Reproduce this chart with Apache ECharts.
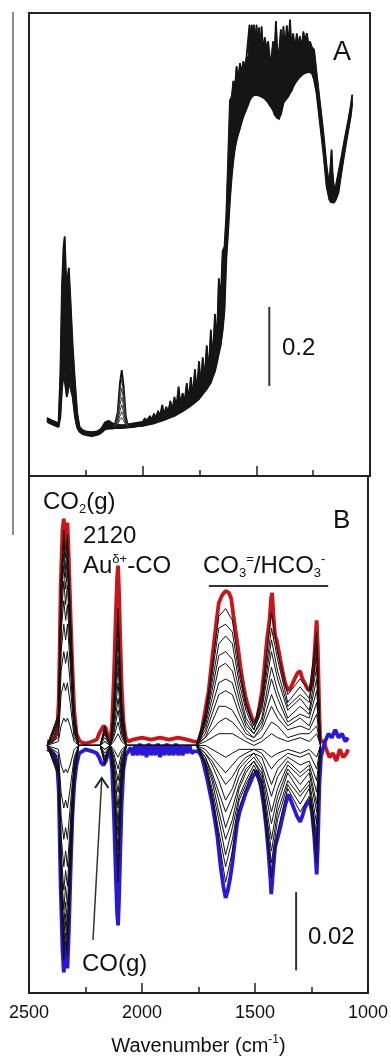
<!DOCTYPE html>
<html><head><meta charset="utf-8">
<script src="https://cdn.jsdelivr.net/npm/echarts@6/dist/echarts.min.js"></script>
<style>html,body{margin:0;padding:0;background:#fff}#c{width:391px;height:1059px}</style>
</head><body><div id="c"></div>
<script>
// ---------- Panel A : absorbance spectra (bundle envelope) ----------
const aWn = [2420,2400,2380,2370,2362,2355,2348,2343,2338,2334,2330,2325,2318,2308,2298,2288,2278,2265,2245,2222,2200,2185,2165,2150,2135,2120,2100,2080,2060,2040,2020,2000,1990,1982,1968,1960,1950,1942,1932,1924,1914,1906,1896,1888,1878,1870,1860,1852,1842,1834,1824,1816,1806,1798,1788,1780,1770,1762,1752,1744,1736,1728,1718,1710,1700,1692,1682,1674,1665,1657,1648,1640,1632,1624,1616,1608,1601,1594,1587,1580,1572,1565,1557,1550,1543,1536,1530,1525,1520,1515,1510,1505,1499,1493,1488,1482,1477,1470,1463,1455,1448,1440,1433,1426,1420,1414,1407,1399,1392,1386,1381,1374,1366,1358,1352,1345,1338,1330,1322,1315,1308,1300,1293,1286,1278,1270,1264,1256,1246,1235,1220,1205,1191,1179,1172,1169,1165,1158,1150,1139,1128,1117,1106,1095,1085,1078];
const aUpper = [0.147,0.141,0.136,0.134,0.26,0.48,0.58,0.606,0.52,0.47,0.50,0.527,0.45,0.33,0.24,0.16,0.125,0.116,0.112,0.111,0.113,0.118,0.136,0.14,0.134,0.131,0.129,0.129,0.131,0.133,0.135,0.137,0.146,0.139,0.152,0.142,0.158,0.146,0.165,0.15,0.18,0.156,0.175,0.16,0.19,0.165,0.20,0.172,0.226,0.18,0.21,0.185,0.235,0.19,0.25,0.2,0.27,0.21,0.29,0.225,0.30,0.245,0.33,0.26,0.37,0.29,0.41,0.33,0.50,0.44,0.57,0.58,0.66,0.80,0.95,0.96,1.00,0.98,1.037,1.00,1.045,1.02,1.05,1.03,1.062,1.06,1.142,1.08,1.142,1.09,1.142,1.08,1.142,1.07,1.135,1.06,1.138,1.07,1.11,1.08,1.10,1.05,1.062,1.10,1.06,1.151,1.07,1.079,1.13,1.06,1.138,1.08,1.14,1.09,1.155,1.08,1.12,1.079,1.12,1.09,1.113,1.08,1.125,1.10,1.121,1.09,1.10,1.085,1.079,1.02,0.944,0.868,0.784,0.734,0.80,0.826,0.77,0.725,0.735,0.767,0.80,0.835,0.87,0.902,0.935,0.965];
const aLower = [0.137,0.131,0.126,0.124,0.15,0.22,0.26,0.26,0.22,0.20,0.21,0.24,0.24,0.20,0.15,0.122,0.112,0.106,0.103,0.101,0.104,0.108,0.118,0.12,0.12,0.121,0.121,0.122,0.123,0.124,0.126,0.127,0.128,0.129,0.131,0.132,0.133,0.135,0.137,0.139,0.14,0.142,0.144,0.146,0.148,0.15,0.152,0.155,0.158,0.161,0.164,0.167,0.171,0.175,0.178,0.182,0.186,0.19,0.195,0.2,0.207,0.213,0.22,0.228,0.236,0.25,0.265,0.285,0.31,0.33,0.37,0.42,0.55,0.62,0.70,0.76,0.80,0.83,0.85,0.865,0.88,0.895,0.91,0.92,0.93,0.94,0.95,0.955,0.96,0.962,0.964,0.965,0.965,0.964,0.963,0.962,0.96,0.958,0.955,0.95,0.945,0.938,0.932,0.925,0.915,0.91,0.905,0.902,0.915,0.93,0.944,0.95,0.955,0.962,0.969,0.975,0.985,0.994,1.0,1.006,1.011,1.015,1.018,1.02,1.022,1.023,1.024,1.02,1.003,0.969,0.893,0.818,0.734,0.70,0.693,0.692,0.692,0.692,0.70,0.717,0.76,0.801,0.84,0.877,0.91,0.944];
// Panel A: individual curves of the 2120 (Au-CO) band
const aCoWn = [2125,2110,2100,2092,2084,2074,2064];
const aCo = [
  [0.124,0.16,0.235,0.268,0.23,0.15,0.126],
  [0.124,0.155,0.215,0.245,0.21,0.145,0.126],
  [0.124,0.15,0.197,0.222,0.193,0.14,0.126],
  [0.124,0.145,0.18,0.2,0.177,0.137,0.126],
  [0.124,0.14,0.165,0.18,0.162,0.134,0.126],
  [0.124,0.136,0.152,0.163,0.15,0.132,0.126],
  [0.124,0.132,0.142,0.148,0.14,0.13,0.126]
];
const scaleBarA = [[1443,0.228],[1443,0.428]];

// ---------- Panel B : difference spectra (units of 0.001 abs) ----------
const redWn = [2420,2400,2385,2375,2368,2360,2352,2346,2340,2336,2330,2324,2316,2308,2300,2290,2275,2250,2220,2200,2190,2180,2170,2160,2150,2140,2132,2124,2116,2110,2106,2102,2096,2090,2082,2072,2060,2040,2000,1960,1920,1880,1840,1800,1770,1750,1735,1720,1705,1690,1680,1670,1660,1645,1630,1615,1605,1595,1585,1575,1564,1550,1540,1525,1510,1500,1490,1480,1469,1458,1447,1436,1428,1424,1418,1411,1404,1396,1388,1378,1367,1352,1340,1325,1312,1300,1290,1280,1268,1258,1248,1240,1232,1227,1222,1216,1212,1205,1195,1185,1170,1155,1140,1125,1110,1095,1088];
const redVal = [1,1,2,4,12,40,55,58,52,50,57,48,33,20,9,3,1,0.5,1,1.5,3,4,5,4.5,2,1,6,18,33,43,46,40,27,15,6,2,1,1.5,2,1.5,2,1.5,2,1.5,1,1,4,9,14,22,27,32,36.5,38.5,39.5,39,37.5,33,29,25,20,15,12,9,6.5,6,7,10,14,20,27,32,38,39,33,28,27,27,22,19,16,14,15,17,18.5,19,17,16,14.5,14,16,20,28,32,25,10,2,1,1,-1,-3,-2,-4,-1,-3,-2,-1];
const blueWn = [2420,2400,2385,2375,2368,2360,2352,2346,2340,2336,2330,2324,2316,2308,2300,2290,2278,2250,2220,2200,2190,2180,2170,2160,2150,2140,2132,2124,2116,2110,2106,2102,2096,2090,2082,2072,2060,
  2050,2040,2030,2020,2010,2000,1990,1980,1970,1960,1950,1940,1930,1920,1910,1900,1890,1880,1870,1860,1850,1840,1830,1820,1810,1800,1790,1780,
  1770,1750,1735,1726,1710,1689,1675,1667,1652,1640,1630,1620,1610,1600,1590,1579,1568,1557,1540,1528,1510,1491,1478,1462,1450,1440,1432,1428,1420,1411,1404,1396,1388,1381,1365,1352,1335,1315,1300,1290,1280,1271,1258,1248,1238,1230,1227,1222,1215,1208,1200,1190,1175,1160,1145,1130,1115,1100,1088];
const blueVal = [-1,-1.5,-2.5,-5,-12,-36,-52,-58,-53,-50,-57,-48,-32,-18,-10,-5,-2,-1,-1.5,-2,-3,-4.5,-5,-4,-2,-1.5,-6,-18,-33,-43,-46,-40,-27,-15,-6,-2.5,-1.5,
  -0.5,-2.5,0,-2.5,0.5,-2.5,0,-3,0.5,-2.5,0,-2.5,0.5,-3,0,-2.5,0.5,-2.5,0,-2.5,0.5,-2.5,0,-2.5,0,-2,0,-2,
  -1.5,-1.5,-3,-5,-9,-15,-20,-23,-31,-36,-39,-37,-34,-30,-25,-20,-17,-15,-12,-10.5,-8,-6.5,-9,-15,-21,-27.5,-34,-38,-32,-26,-24.5,-24,-21,-19,-15,-12.5,-15,-18,-19.5,-18,-16,-15,-14,-17,-23,-30,-33,-26,-10,-3,-1,1,3,2,4,2,3,1,2];
// intermediate (black) spectra, sampled at bGrid
const bGrid = [2420,2370,2358,2346,2338,2330,2318,2300,2280,2185,2165,2140,2125,2106,2090,2070,1760,1720,1690,1660,1630,1600,1570,1540,1505,1470,1427,1400,1355,1300,1260,1227,1210];
const bPos = [
  [0,1,5,7,6,7,5,1,0,0,1,0,1,3,1,0,0,1,2,3,3,3,2,1,0,1,3,2,1,2,1,3,0],
  [0,2,13,16,14,16,11,2,0,0,1,0,2,6,2,0,0,2,4,6,7,6,4,2,1,2,6,5,2,3,3,5,0],
  [0,3,19,24,21,24,16,3,0,0,2,0,3,9,3,0,0,2,6,10,10,9,6,3,2,4,10,7,4,5,4,8,0],
  [0,4,24,31,27,31,21,4,0,0,3,0,4,12,4,0,0,3,8,13,14,13,8,4,2,5,13,9,5,7,5,11,0],
  [0,5,29,37,32,36,24,5,0,0,3,0,5,16,5,0,0,4,10,16,17,16,10,5,3,6,17,12,6,8,7,14,0],
  [0,6,32,42,36,41,27,6,0,0,4,0,6,20,6,0,0,5,12,20,21,19,12,6,3,7,20,14,7,10,8,17,0],
  [0,6,36,46,40,45,30,6,0,0,4,0,8,23,8,0,0,6,14,23,24,22,14,7,4,9,24,17,9,12,9,20,0],
  [0,7,38,49,43,48,32,7,0,0,4,0,9,27,9,0,0,6,16,26,28,26,16,9,4,10,27,19,10,13,11,23,0],
  [0,7,41,52,45,51,34,7,0,0,4,0,10,31,10,0,0,7,18,30,31,29,18,10,5,11,30,22,11,15,12,26,0],
  [0,8,43,55,48,54,36,8,0,0,5,0,11,35,11,0,0,8,20,33,35,32,20,11,5,13,34,24,13,17,14,29,0]
];
const bNeg = [
  [0,-1,-5,-7,-6,-7,-5,-1,0,0,-1,0,-1,-3,-1,0,0,0,-1,-2,-3,-2,-1,-1,-1,-1,-3,-2,-1,-2,-1,-3,0],
  [0,-2,-12,-16,-14,-16,-11,-3,0,0,-1,0,-2,-6,-2,0,0,-1,-3,-5,-7,-5,-3,-2,-1,-2,-6,-4,-2,-3,-2,-6,0],
  [0,-3,-18,-24,-21,-24,-16,-4,0,0,-2,0,-3,-9,-3,0,0,-2,-4,-7,-10,-8,-5,-3,-2,-3,-10,-6,-3,-5,-4,-9,0],
  [0,-4,-23,-31,-27,-31,-21,-5,0,0,-3,0,-4,-12,-4,0,0,-2,-5,-9,-14,-11,-6,-4,-2,-5,-13,-8,-4,-7,-5,-12,0],
  [0,-5,-27,-37,-32,-36,-24,-6,0,0,-3,0,-5,-16,-5,0,0,-3,-7,-12,-17,-13,-8,-5,-3,-6,-17,-11,-5,-8,-6,-15,0],
  [0,-6,-30,-42,-36,-41,-27,-7,0,0,-4,0,-6,-20,-6,0,0,-3,-8,-14,-21,-16,-10,-6,-4,-7,-20,-13,-6,-10,-7,-17,0],
  [0,-6,-33,-46,-40,-45,-30,-8,0,0,-4,0,-8,-23,-8,0,0,-4,-9,-17,-24,-19,-11,-7,-4,-8,-24,-15,-7,-12,-9,-20,0],
  [0,-7,-36,-49,-43,-48,-32,-8,0,0,-4,0,-9,-27,-9,0,0,-4,-11,-19,-28,-21,-13,-9,-5,-9,-27,-17,-9,-13,-10,-23,0],
  [0,-7,-38,-52,-45,-51,-34,-9,0,0,-4,0,-10,-31,-10,0,0,-5,-12,-22,-31,-24,-14,-10,-6,-10,-30,-19,-10,-15,-11,-26,0],
  [0,-8,-40,-55,-48,-54,-36,-9,0,0,-5,0,-11,-35,-11,0,0,-5,-14,-24,-35,-27,-16,-11,-6,-12,-34,-22,-11,-17,-13,-30,0]
];
const scaleBarB = [[1318,-57.5],[1318,-37.5]];
const carbonateBar = [[1704,40.8],[1176,40.8]];
const xTicks = [2500,2000,1500,1000];

// ---------- build ----------
const FONT = 'Liberation Sans, Arial, sans-serif';
const INK = '#111';
const zip = (xs, ys) => xs.map((x, i) => [x, ys[i]]);
const chart = echarts.init(document.getElementById('c'), null, {renderer: 'canvas'});

function xAx(gi, showLabels) {
  return {
    gridIndex: gi, type: 'value', min: xTicks[xTicks.length - 1], max: xTicks[0], interval: 500, inverse: true,
    axisLine: {show: true, onZero: false, lineStyle: {color: '#222', width: 2}},
    axisTick: {show: true, inside: true, length: 10, lineStyle: {color: '#222', width: 1.5}},
    minorTick: {show: true, splitNumber: 2, length: 6, lineStyle: {color: '#222', width: 1.5}},
    splitLine: {show: false}, minorSplitLine: {show: false},
    axisLabel: {show: showLabels, fontSize: 18, color: INK, fontFamily: FONT, margin: 11,
      formatter: v => String(v)},
    name: showLabels ? 'Wavenumber (cm{sup|-1})' : '',
    nameLocation: 'middle', nameGap: 41,
    nameTextStyle: {fontSize: 20, color: INK, fontFamily: FONT, lineHeight: 24,
      rich: {sup: {fontSize: 12, lineHeight: 12, verticalAlign: 'top', fontFamily: FONT, color: INK}}}
  };
}

const series = [];
// Panel A envelope (filled bundle)
series.push({
  type: 'custom', xAxisIndex: 0, yAxisIndex: 0, silent: true, z: 2,
  data: [[aWn[0], aUpper[0]]],
  renderItem: (params, api) => {
    const pts = [];
    for (let i = 0; i < aWn.length; i++) pts.push(api.coord([aWn[i], aUpper[i]]));
    for (let i = aWn.length - 1; i >= 0; i--) pts.push(api.coord([aWn[i], aLower[i]]));
    return {type: 'polygon', shape: {points: pts}, style: {fill: '#151515', stroke: '#151515', lineWidth: 1}};
  }
});
[aUpper, aLower].forEach(arr => series.push({
  type: 'line', xAxisIndex: 0, yAxisIndex: 0, data: zip(aWn, arr), showSymbol: false, symbol: 'none',
  lineStyle: {color: '#151515', width: 1.8}, z: 3, silent: true
}));
aCo.forEach((arr, i) => series.push({
  type: 'line', xAxisIndex: 0, yAxisIndex: 0, data: zip(aCoWn, arr), symbol: 'none',
  lineStyle: {color: i === 0 ? '#111' : '#333', width: i === 0 ? 1.8 : 1}, z: 4, silent: true
}));
series.push({type: 'line', xAxisIndex: 0, yAxisIndex: 0, data: scaleBarA, symbol: 'none',
  lineStyle: {color: '#333', width: 2}, silent: true});

// Panel B
series.push({type: 'line', xAxisIndex: 1, yAxisIndex: 1, data: zip(redWn, redVal), symbol: 'none',
  lineStyle: {color: '#c8161a', width: 3.8}, z: 2, silent: true});
series.push({type: 'line', xAxisIndex: 1, yAxisIndex: 1, data: zip(blueWn, blueVal), symbol: 'none',
  lineStyle: {color: '#2a18d8', width: 3.8}, z: 2, silent: true});
bPos.concat(bNeg).forEach(arr => series.push({
  type: 'line', xAxisIndex: 1, yAxisIndex: 1, data: zip(bGrid, arr), symbol: 'none',
  lineStyle: {color: '#111', width: 1}, z: 3, silent: true
}));
series.push({type: 'line', xAxisIndex: 1, yAxisIndex: 1, data: scaleBarB, symbol: 'none',
  lineStyle: {color: '#333', width: 2}, silent: true});
series.push({type: 'line', xAxisIndex: 1, yAxisIndex: 1, data: carbonateBar, symbol: 'none',
  lineStyle: {color: '#333', width: 2}, silent: true});

const T = (x, y, text, size, rich) => ({
  type: 'text', x: x, y: y, silent: true,
  style: {text: text, font: size + 'px ' + FONT, fontSize: size, fontFamily: FONT, fill: INK,
    align: 'left', textAlign: 'left', verticalAlign: 'middle', textVerticalAlign: 'middle',
    lineHeight: 27, rich: rich || {}}
});
const subSup = {
  sub: {fontSize: 13, lineHeight: 13, verticalAlign: 'bottom', fontFamily: FONT, fill: INK},
  sup: {fontSize: 13, lineHeight: 13, verticalAlign: 'top', fontFamily: FONT, fill: INK}
};

chart.setOption({
  animation: false,
  backgroundColor: '#fff',
  grid: [
    {left: 29, right: 21, top: 13, height: 463, show: true, borderColor: '#222', borderWidth: 2, backgroundColor: 'transparent'},
    {left: 29, right: 21, top: 476, height: 522, show: true, borderColor: '#222', borderWidth: 2, backgroundColor: 'transparent'}
  ],
  xAxis: [xAx(0, false), xAx(1, true)],
  yAxis: [
    {gridIndex: 0, type: 'value', min: 0, max: 1.172, show: false},
    {gridIndex: 1, type: 'value', min: -63.3, max: 68.9, show: false}
  ],
  series: series,
  graphic: [
    {type: 'line', silent: true, shape: {x1: 13, y1: 12, x2: 13, y2: 535}, style: {stroke: '#666', lineWidth: 1.5}},
    T(333, 53, 'A', 27),
    T(333, 521, 'B', 26),
    T(282, 348, '0.2', 24),
    T(308, 937, '0.02', 24),
    T(43, 502, 'CO{sub|2}(g)', 24, subSup),
    T(83, 536, '2120', 24),
    T(83, 566, 'Au{sup|δ+}-CO', 24, subSup),
    T(203, 566, 'CO{sub|3}{sup|=}/HCO{sub|3}{sup|-}', 24, subSup),
    T(82, 964, 'CO(g)', 24),
    {type: 'line', silent: true, shape: {x1: 93, y1: 940, x2: 101.7, y2: 780}, style: {stroke: '#333', lineWidth: 1.5}},
    {type: 'polyline', silent: true, shape: {points: [[95, 788], [101.7, 778], [108.5, 788]]}, style: {stroke: '#222', lineWidth: 2, fill: null}}
  ]
});
</script></body></html>
